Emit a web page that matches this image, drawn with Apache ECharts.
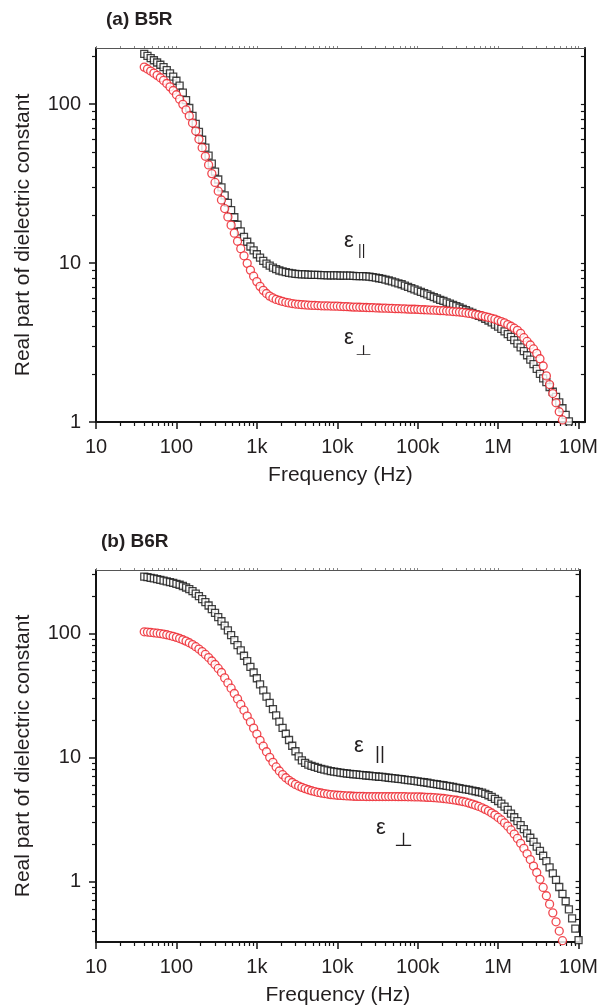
<!DOCTYPE html>
<html><head><meta charset="utf-8">
<script src="https://cdn.jsdelivr.net/npm/echarts@6/dist/echarts.min.js"></script>
<style>html,body{margin:0;padding:0;background:#fff}#c{width:601px;height:1007px}</style>
</head><body><div id="c"></div>
<script>
// Frequency sweep (Hz), shared by all four series
const frequencyHz = [
39.81,43.65,47.86,52.48,57.54,63.10,69.18,75.86,83.18,91.20,
100,109.6,120.2,131.8,144.5,158.5,173.8,190.5,208.9,229.1,251.2,275.4,302.0,331.1,363.1,398.1,436.5,478.6,524.8,575.4,631.0,691.8,758.6,831.8,912.0,
1000,1096,1202,1318,1445,1585,1738,1905,2089,2291,2512,2754,3020,3311,3631,3981,4365,4786,5248,5754,6310,6918,7586,8318,9120,
10000,10960,12020,13180,14450,15850,17380,19050,20890,22910,25120,27540,30200,33110,36310,39810,43650,47860,52480,57540,63100,69180,75860,83180,91200,
100000,109600,120200,131800,144500,158500,173800,190500,208900,229100,251200,275400,302000,331100,363100,398100,436500,478600,524800,575400,631000,691800,758600,831800,912000,
1000000,1096000,1202000,1318000,1445000,1585000,1738000,1905000,2089000,2291000,2512000,2754000,3020000,3311000,3631000,3981000,4365000,4786000,5248000,5754000,6310000,6918000,7586000,8318000,9120000,
10000000];

// (a) B5R
const epsParallelB5R = [
206.5,200.5,194.1,188.4,182.4,176.6,170.6,163.3,156.0,148.6,
140.0,130.3,118.0,105.9,94.4,84.1,75.0,66.8,59.6,53.1,47.3,42.2,37.6,33.5,29.9,26.6,23.9,21.5,19.4,17.4,15.8,14.6,13.6,12.7,12.0,
11.35,10.8,10.3,9.91,9.62,9.35,9.14,8.97,8.85,8.75,8.67,8.61,8.55,8.51,8.49,8.47,8.45,8.43,8.43,8.41,8.39,8.39,8.37,8.37,8.36,
8.36,8.34,8.34,8.32,8.32,8.30,8.28,8.28,8.26,8.24,8.20,8.15,8.09,8.02,7.94,7.85,7.76,7.66,7.55,7.45,7.35,7.21,7.08,6.95,6.82,
6.70,6.58,6.46,6.34,6.21,6.10,5.98,5.87,5.77,5.66,5.56,5.46,5.36,5.25,5.15,5.05,4.95,4.85,4.75,4.66,4.56,4.46,4.35,4.23,4.10,
3.98,3.85,3.72,3.57,3.43,3.27,3.11,2.95,2.79,2.63,2.47,2.31,2.16,2.01,1.88,1.78,1.66,1.55,1.44,1.33,1.22,1.11,1.01];
const epsPerpB5R = [
170.6,166.0,161.1,156.3,151.4,146.2,140.6,134.6,128.2,121.6,
114.3,107.2,99.5,91.8,84.1,75.9,67.6,60.0,53.1,46.9,41.4,36.5,32.1,28.3,24.9,22.0,19.5,17.3,15.4,13.7,12.3,11.1,9.95,9.02,8.26,
7.64,7.13,6.73,6.43,6.19,6.03,5.90,5.81,5.73,5.66,5.61,5.56,5.52,5.50,5.47,5.45,5.43,5.42,5.41,5.40,5.38,5.37,5.37,5.36,5.35,
5.35,5.33,5.32,5.31,5.30,5.28,5.28,5.27,5.26,5.25,5.24,5.24,5.22,5.21,5.20,5.20,5.19,5.18,5.16,5.16,5.15,5.14,5.13,5.12,5.12,
5.11,5.09,5.08,5.07,5.06,5.05,5.04,5.02,5.01,4.99,4.98,4.95,4.93,4.92,4.89,4.85,4.82,4.79,4.74,4.70,4.66,4.60,4.55,4.49,4.43,
4.35,4.28,4.20,4.10,4.00,3.89,3.77,3.61,3.39,3.21,3.05,2.88,2.70,2.50,2.25,1.95,1.72,1.51,1.32,1.16,1.03];

// (b) B6R
const epsParallelB6R = [
285.8,283.1,279.9,276.7,272.9,269.2,265.5,261.8,258.2,254.7,
250.6,246.0,240.4,233.9,226.5,218.3,208.9,199.1,188.8,178.2,167.5,156.7,145.9,135.2,125.0,115.1,105.7,96.6,88.1,80.2,72.8,65.9,59.6,53.7,48.3,
43.4,38.8,34.7,30.9,27.5,24.5,21.8,19.4,17.3,15.5,13.8,12.4,11.2,10.2,9.44,9.02,8.75,8.55,8.37,8.22,8.09,7.96,7.85,7.74,7.66,
7.59,7.52,7.46,7.41,7.36,7.31,7.28,7.23,7.19,7.14,7.11,7.06,7.03,6.98,6.95,6.90,6.85,6.81,6.76,6.71,6.67,6.62,6.56,6.52,6.46,
6.41,6.35,6.30,6.24,6.18,6.12,6.07,6.01,5.96,5.90,5.83,5.78,5.71,5.65,5.58,5.52,5.46,5.40,5.33,5.26,5.19,5.08,4.95,4.81,4.63,
4.45,4.24,4.01,3.77,3.52,3.29,3.06,2.84,2.64,2.44,2.25,2.08,1.91,1.76,1.61,1.46,1.30,1.16,1.03,0.902,0.794,0.692,0.596,0.504,0.417,0.337];
const epsPerpB6R = [
102.8,102.3,101.6,100.9,100.2,99.5,98.4,97.3,95.9,94.4,
92.7,90.8,88.7,86.5,83.9,81.1,78.0,74.6,71.1,67.5,63.7,59.8,56.0,52.1,48.3,43.7,39.8,36.1,32.7,29.6,26.7,24.0,21.5,19.3,17.2,
15.4,13.7,12.3,11.1,10.0,9.12,8.37,7.76,7.26,6.85,6.53,6.27,6.05,5.87,5.73,5.60,5.48,5.38,5.30,5.22,5.16,5.11,5.06,5.01,4.98,
4.95,4.93,4.91,4.89,4.88,4.86,4.85,4.84,4.84,4.83,4.83,4.83,4.83,4.83,4.83,4.83,4.83,4.83,4.83,4.82,4.82,4.82,4.81,4.81,4.80,
4.80,4.79,4.78,4.76,4.75,4.73,4.71,4.69,4.66,4.62,4.59,4.55,4.51,4.46,4.41,4.35,4.28,4.20,4.11,4.02,3.92,3.81,3.69,3.56,3.43,
3.28,3.13,2.96,2.79,2.60,2.41,2.22,2.03,1.85,1.67,1.50,1.33,1.18,1.04,0.895,0.767,0.656,0.558,0.473,0.398,0.333];

// Axis ticks and labels
const xMajorTicks = [10,100,1e3,1e4,1e5,1e6,1e7];
const xTickLabels = ['10','100','1k','10k','100k','1M','10M'];
const yMajorTicks = [1,10,100];
const yTickLabels = ['1','10','100'];
const minorMantissas = [2,3,4,5,6,7,8,9];

function minorTicks(lo, hi) {
  const out = [];
  for (let d = -1; d <= 7; d++) {
    minorMantissas.forEach(m => { const v = m * Math.pow(10, d); if (v > lo && v < hi) out.push(v); });
  }
  return out;
}

const FONT = '"Liberation Sans", Arial, sans-serif';
const TXT = '#231f20';
const INK = '#141414';
const RED = '#ec1c24';

function labelFor(v, ticks, labels) {
  const e = Math.log10(v);
  for (let i = 0; i < ticks.length; i++) if (Math.abs(Math.log10(ticks[i]) - e) < 1e-6) return labels[i];
  return '';
}

function makeX(grid, max) {
  const minor = minorTicks(10, max);
  const base = { type: 'log', logBase: 10, gridIndex: grid, min: 10, max: max, splitLine: { show: false } };
  return [
    Object.assign({}, base, {
      position: 'bottom', name: 'Frequency (Hz)', nameLocation: 'middle', nameGap: 43,
      nameTextStyle: { fontSize: 21, color: TXT, fontFamily: FONT },
      axisLine: { show: true, onZero: false, lineStyle: { color: INK, width: 2 } },
      axisTick: { show: true, inside: false, length: 7, customValues: xMajorTicks, lineStyle: { color: INK, width: 1.5 } },
      axisLabel: { show: true, customValues: xMajorTicks, formatter: v => labelFor(v, xMajorTicks, xTickLabels),
        margin: 15, fontSize: 20, color: TXT, fontFamily: FONT }
    }),
    Object.assign({}, base, {
      position: 'bottom',
      axisLine: { show: false, onZero: false },
      axisTick: { show: true, inside: false, length: 4, customValues: minor, lineStyle: { color: INK, width: 1.2 } },
      axisLabel: { show: false }
    }),
    Object.assign({}, base, {
      position: 'top',
      axisLine: { show: true, onZero: false, lineStyle: { color: '#555', width: 1.2 } },
      axisTick: { show: true, inside: false, length: 2, customValues: xMajorTicks.concat(minor), lineStyle: { color: '#888', width: 1 } },
      axisLabel: { show: false }
    })
  ];
}

function makeY(grid, min, max) {
  const minor = minorTicks(min, max);
  const base = { type: 'log', logBase: 10, gridIndex: grid, min: min, max: max, splitLine: { show: false } };
  return [
    Object.assign({}, base, {
      position: 'left', name: 'Real part of dielectric constant', nameLocation: 'middle', nameGap: 62,
      nameTextStyle: { fontSize: 21, color: TXT, fontFamily: FONT },
      axisLine: { show: true, onZero: false, lineStyle: { color: INK, width: 2 } },
      axisTick: { show: true, inside: false, length: 7, customValues: yMajorTicks, lineStyle: { color: INK, width: 1.5 } },
      axisLabel: { show: true, customValues: yMajorTicks, formatter: v => labelFor(v, yMajorTicks, yTickLabels),
        margin: 15, fontSize: 20, color: TXT, fontFamily: FONT }
    }),
    Object.assign({}, base, {
      position: 'left',
      axisLine: { show: false, onZero: false },
      axisTick: { show: true, inside: false, length: 4, customValues: minor, lineStyle: { color: INK, width: 1.2 } },
      axisLabel: { show: false }
    }),
    Object.assign({}, base, {
      position: 'right',
      axisLine: { show: true, onZero: false, lineStyle: { color: INK, width: 2 } },
      axisTick: { show: true, inside: true, length: 4, customValues: yMajorTicks.concat(minor), lineStyle: { color: INK, width: 1.2 } },
      axisLabel: { show: false }
    })
  ];
}

function pairs(vals) { return vals.map((v, i) => [frequencyHz[i], v]); }

function squares(vals, axis) {
  return { type: 'scatter', xAxisIndex: axis, yAxisIndex: axis, data: pairs(vals), symbol: 'rect', symbolSize: 7,
    itemStyle: { color: '#ffffff', borderColor: INK, borderWidth: 1.3 }, silent: true };
}
function circles(vals, axis) {
  return { type: 'scatter', xAxisIndex: axis, yAxisIndex: axis, data: pairs(vals), symbol: 'circle', symbolSize: 8,
    itemStyle: { color: '#ffffff', borderColor: RED, borderWidth: 1.3 }, silent: true };
}

const chart = echarts.init(document.getElementById('c'), null, { renderer: 'canvas' });
chart.setOption({
  animation: false,
  backgroundColor: '#ffffff',
  title: [
    { text: '(a) B5R', left: 106, top: 10, padding: 0, textStyle: { fontSize: 19, fontWeight: 'bold', color: TXT, fontFamily: FONT } },
    { text: '(b) B6R', left: 101, top: 532, padding: 0, textStyle: { fontSize: 19, fontWeight: 'bold', color: TXT, fontFamily: FONT } }
  ],
  grid: [
    { left: 96, top: 48, width: 491, height: 374 },
    { left: 96, top: 570, width: 491, height: 372 }
  ],
  xAxis: makeX(0, 1.2e7).concat(makeX(1, 1.03e7)),
  yAxis: makeY(0, 1, 225).concat(makeY(1, 0.325, 323.6)),
  series: [
    squares(epsParallelB5R, 0),
    circles(epsPerpB5R, 0),
    squares(epsParallelB6R, 3),
    circles(epsPerpB6R, 3)
  ],
  graphic: [
    { type: 'text', x: 344, y: 230, style: { text: 'ε', font: '22px "Liberation Sans"', fill: TXT } },
    { type: 'text', x: 358, y: 244, style: { text: '||', font: '14px "Liberation Sans"', fill: TXT } },
    { type: 'text', x: 344, y: 327, style: { text: 'ε', font: '22px "Liberation Sans"', fill: TXT } },
    { type: 'text', x: 355, y: 344, scaleX: 1.4, style: { text: '⊥', font: '14px "DejaVu Sans"', fill: TXT } },
    { type: 'text', x: 354, y: 735, style: { text: 'ε', font: '22px "Liberation Sans"', fill: TXT } },
    { type: 'text', x: 375, y: 744, style: { text: '||', font: '19px "Liberation Sans"', fill: TXT } },
    { type: 'text', x: 376, y: 817, style: { text: 'ε', font: '22px "Liberation Sans"', fill: TXT } },
    { type: 'text', x: 394, y: 832, scaleX: 1.15, style: { text: '⊥', font: '19px "DejaVu Sans"', fill: TXT } }
  ]
});
</script>
</body></html>
